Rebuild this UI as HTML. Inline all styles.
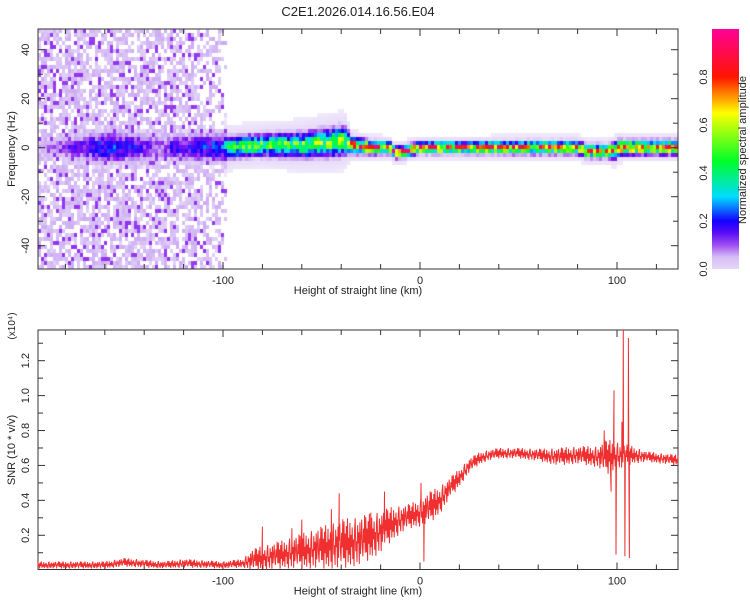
<!DOCTYPE html>
<html><head><meta charset="utf-8"><style>
body{margin:0;background:#fff;width:750px;height:600px;overflow:hidden;font-family:"Liberation Sans",sans-serif}
#wrap{position:relative;width:750px;height:600px}
canvas{position:absolute;left:38px;top:29px}
svg{position:absolute;left:0;top:0}
text{font-family:"Liberation Sans",sans-serif;fill:#222}
</style></head><body><div id="wrap">
<canvas id="hm" width="640" height="240"></canvas>
<svg id="s" width="750" height="600"></svg>
</div>
<script>
// ---- data ----
const bandKm   =[-195,-170,-160,-150,-140,-130,-125,-110,-100,-97,-80,-60,-45,-38,-35,-25,-15,-13,-10,0,20,60,80,85,95,99,101,103,110,131];
const bandHz   =[0,0,0,0,0,0,0,0,0,0,1,1,2,3,1,0,0,-2,-2,0,0,0,0,-1.5,-1.5,-1.5,0,0,0,0];
const bandWidth=[3,5,5.5,5,5,4.5,4.5,5,5,3.5,3.5,4,4.5,4.5,2.5,2,1.8,1.8,1.8,1.8,1.8,2,2,2,2,2.5,2.5,2.2,2.2,2.2];
const bandAmp  =[0.05,0.16,0.22,0.2,0.16,0.1,0.18,0.2,0.24,0.45,0.5,0.5,0.52,0.55,0.75,0.85,0.85,0.8,0.8,0.85,0.78,0.72,0.7,0.75,0.8,0.7,0.7,0.85,0.8,0.75];
const noiseKm  =[-195,-130,-115,-105,-100,-97,131];
const noiseDens=[1,0.95,0.85,0.7,0.5,0,0];
const snrKm    =[-194,-160,-150,-130,-120,-100,-90,-85,-80,-70,-60,-50,-40,-30,-20,-15,-10,-5,0,5,10,15,20,25,30,35,40,50,60,70,80,90,95,108,115,131];
const snrBase  =[0.03,0.03,0.045,0.03,0.04,0.03,0.04,0.06,0.07,0.09,0.11,0.13,0.15,0.17,0.22,0.26,0.29,0.31,0.33,0.36,0.4,0.47,0.53,0.6,0.64,0.66,0.67,0.67,0.66,0.65,0.66,0.65,0.65,0.66,0.65,0.63];
const snrSpread=[0.02,0.02,0.025,0.02,0.025,0.02,0.025,0.06,0.07,0.08,0.1,0.12,0.14,0.14,0.12,0.1,0.08,0.07,0.08,0.09,0.08,0.06,0.05,0.04,0.035,0.03,0.03,0.03,0.035,0.05,0.05,0.06,0.1,0.05,0.03,0.03];
const spikeKm  =[-41,-80,2,-18,93.5,97,98.5,99.5,102.5,103.2,104,105.8,106.3,0.5,-65,-45,-60,-25];
const spikeVal =[0.44,0.25,0.05,0.45,0.8,0.45,1.03,0.09,0.85,1.38,0.08,1.33,0.07,0.5,0.24,0.35,0.29,0.33];
const xTicks=[-100,0,100], hzTicks=[-40,-20,0,20,40], snrTicks=[0.2,0.4,0.6,0.8,1.0,1.2], cbTicks=[0.0,0.2,0.4,0.6,0.8];
const texture=[0.9,-0.6,0.4,-1,0.7,-0.3,1,-0.8,0.2,-0.5,0.8,-0.9,0.3,-0.2,0.6,-0.7,0.1,-1,0.5,0.95,-0.4,0.0,-0.85,0.65,-0.1,0.35,-0.95,0.75,-0.55,0.15,0.85,-0.25,-0.7,0.45,-0.15,1,-0.6];

// ---- axes ----
const xT=k=>420+1.97*k, yT=f=>147.7-2.45*f, yB=v=>570.2-174.6*v, yC=v=>269-240*v;
const interp=(xs,ys,x)=>{if(x<=xs[0])return ys[0];for(let i=1;i<xs.length;i++)if(x<=xs[i]){const t=(x-xs[i-1])/(xs[i]-xs[i-1]);return ys[i-1]+t*(ys[i]-ys[i-1]);}return ys[ys.length-1];};
const hash=(i,j)=>{const s=Math.sin(i*12.9898+j*78.233)*43758.5453;return s-Math.floor(s);};
const stops=[[0,[255,255,255]],[0.02,[236,226,250]],[0.07,[200,165,242]],[0.12,[130,20,240]],[0.2,[20,0,255]],[0.3,[0,220,255]],[0.45,[0,255,40]],[0.65,[255,255,0]],[0.8,[255,20,0]],[1,[255,0,150]]];
function cmap(v){v=Math.max(0,Math.min(1,v));for(let i=1;i<stops.length;i++)if(v<=stops[i][0]){const a=stops[i-1],b=stops[i],t=(v-a[0])/(b[0]-a[0]);return a[1].map((c,k)=>Math.round(c+t*(b[1][k]-c)));}return stops[stops.length-1][1];}

// ---- heatmap ----
const ctx=document.getElementById('hm').getContext('2d');
const cw=3,ch=4;
for(let ci=0;ci*cw<640;ci++){const km=(38+ci*cw+1.5-420)/1.97;
 const c=interp(bandKm,bandHz,km),w=interp(bandKm,bandWidth,km),a=interp(bandKm,bandAmp,km),d=interp(noiseKm,noiseDens,km);
 for(let cj=0;cj*ch<240;cj++){const f=(147.7-(29+cj*ch+2))/2.45;
  const g=Math.exp(-Math.pow((f-c)/w,2));let v=a*g*(0.6+0.7*hash(ci,cj));
  const halo=km>-100?0.035*Math.exp(-Math.pow((f-c)/(w*3),2)):0; v=Math.max(v,halo);
  if(d>0){const r=hash(cj*3+1,ci*7+2);if(r<d*0.72){const n=hash(ci+5,cj+9);v=Math.max(v,n<0.18?0.105+0.03*n:0.025+0.04*n);}}
  if(v<0.015)continue;const col=cmap(v);ctx.fillStyle=`rgb(${col[0]},${col[1]},${col[2]})`;ctx.fillRect(ci*cw,cj*ch,cw,ch);}}

// ---- svg ----
const S=document.getElementById('s'),NS='http://www.w3.org/2000/svg';
function el(t,a,txt){const e=document.createElementNS(NS,t);for(const k in a)e.setAttribute(k,a[k]);if(txt!==undefined)e.textContent=txt;S.appendChild(e);return e;}
function frame(T,B,name){const r=el('rect',{x:38,y:T,width:640,height:B-T,fill:'none',stroke:'#333','stroke-width':1});
 for(let k=-180;k<=120;k+=20){const x=xT(k),L=k%100===0?7:5;el('line',{x1:x,x2:x,y1:B,y2:B-L,stroke:'#333'});el('line',{x1:x,x2:x,y1:T,y2:T+L,stroke:'#333'});}
 xTicks.forEach(k=>{const t=el('text',{x:xT(k),y:B+15,'font-size':11,'text-anchor':'middle'},k);});
 const xl=el('text',{x:358,y:B+25,'font-size':11,'text-anchor':'middle'},'Height of straight line (km)');}
frame(29,269,'spectrogram-plot-frame');frame(330,569.5,'snr-plot-frame');
for(let f=-40;f<=40;f+=10){const y=yT(f),L=f%20===0?7:5;el('line',{x1:38,x2:38+L,y1:y,y2:y,stroke:'#333'});el('line',{x1:678,x2:678-L,y1:y,y2:y,stroke:'#333'});}
hzTicks.forEach(f=>{const t=el('text',{transform:`translate(29,${yT(f)}) rotate(-90)`,'font-size':11,'text-anchor':'middle'},f);});
for(let v=0.1;v<1.38;v+=0.1){const y=yB(v),L=Math.round(v*10)%2===0?7:5;el('line',{x1:38,x2:38+L,y1:y,y2:y,stroke:'#333'});el('line',{x1:678,x2:678-L,y1:y,y2:y,stroke:'#333'});}
snrTicks.forEach(v=>{const t=el('text',{transform:`translate(29,${yB(v)}) rotate(-90)`,'font-size':11,'text-anchor':'middle'},v.toFixed(1));});
let t;
t=el('text',{x:358,y:16,'font-size':13,'text-anchor':'middle'},'C2E1.2026.014.16.56.E04');
t=el('text',{transform:'translate(15,149) rotate(-90)','font-size':11,'text-anchor':'middle'},'Frequency (Hz)');
t=el('text',{transform:'translate(15,450) rotate(-90)','font-size':11,'text-anchor':'middle'},'SNR (10 * v/v)');
t=el('text',{transform:'translate(15,326) rotate(-90)','font-size':10,'text-anchor':'middle'},'(x10⁴)');

// colorbar
const defs=el('defs',{});const gr=document.createElementNS(NS,'linearGradient');gr.setAttribute('id','cg');gr.setAttribute('x1',0);gr.setAttribute('y1',1);gr.setAttribute('x2',0);gr.setAttribute('y2',0);defs.appendChild(gr);
for(let i=0;i<=20;i++){const c=cmap(i/20===0?0.03:i/20);const s=document.createElementNS(NS,'stop');s.setAttribute('offset',i/20);s.setAttribute('stop-color',`rgb(${c})`);gr.appendChild(s);}
t=el('rect',{x:712,y:29,width:27,height:240,fill:'url(#cg)'});
cbTicks.forEach(v=>{const q=el('text',{transform:`translate(707,${yC(v)}) rotate(-90)`,'font-size':11,'text-anchor':'middle'},v.toFixed(1));});
t=el('text',{transform:'translate(746,150) rotate(-90)','font-size':11,'text-anchor':'middle'},'Normalized spectral amplitude');

// SNR line
let pts=[],i=0;const sp=spikeKm.map((k,j)=>[k,spikeVal[j]]).sort((a,b)=>a[0]-b[0]);let si=0;
for(let k=-194;k<=131;k+=0.3,i++){while(si<sp.length&&sp[si][0]<=k){pts.push([xT(sp[si][0]),yB(sp[si][1])]);si++;}
 let v=interp(snrKm,snrBase,k)+interp(snrKm,snrSpread,k)*texture[i%texture.length];v=Math.max(0.003,v);pts.push([xT(k),yB(v)]);}
t=el('polyline',{points:pts.map(p=>p[0].toFixed(1)+','+p[1].toFixed(1)).join(' '),fill:'none',stroke:'#f03030','stroke-width':1});

</script></body></html>
